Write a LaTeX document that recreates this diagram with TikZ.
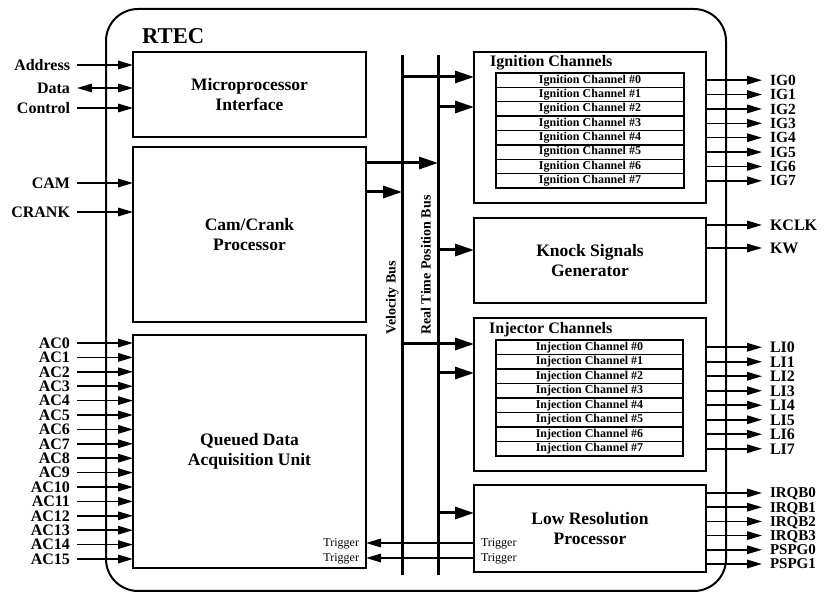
\documentclass[tikz,border=0pt]{standalone}
\usepackage{fontspec}
\setmainfont{Liberation Serif}
\usetikzlibrary{arrows.meta}
\newcommand\fBlock{\fontsize{17.5}{20.5}\selectfont\bfseries}
\newcommand\fSig{\fontsize{16}{16}\selectfont\bfseries}
\newcommand\fSigM{\fontsize{15.5}{15.5}\selectfont\bfseries}
\newcommand\fSigS{\fontsize{15}{15}\selectfont\bfseries}
\newcommand\fRow{\fontsize{12}{12}\selectfont\bfseries}
\newcommand\fTrig{\fontsize{12}{12}\selectfont}
\newcommand\fBus{\fontsize{14}{14}\selectfont\bfseries}
\begin{document}
\begin{tikzpicture}[x=1pt,y=-1pt,
  blk/.style={draw, line width=2pt, inner sep=0pt, outer sep=0pt, align=center, font=\fBlock},
  chrow/.style={draw, line width=1.3pt, minimum width=188pt, minimum height=14.4pt, inner sep=0pt, outer sep=0pt, font=\fRow},
  siglbl/.style={inner sep=0pt, outer sep=0pt, font=\fSig, text height=10.6pt, text depth=0pt},
  siglblm/.style={inner sep=0pt, outer sep=0pt, font=\fSigM, text height=10.3pt, text depth=0pt},
  siglbls/.style={inner sep=0pt, outer sep=0pt, font=\fSigS, text height=10pt, text depth=0pt},
  triglbl/.style={inner sep=0pt, outer sep=0pt, font=\fTrig, text height=8pt, text depth=0pt},
  sig/.style={line width=1.6pt, -{Triangle[length=15pt,width=8.5pt]}},
  busarr/.style={line width=3pt, -{Triangle[length=19pt,width=12pt]}},
  busline/.style={line width=3pt}
]
\useasboundingbox (0,0) rectangle (831,593);

% outer RTEC container
\draw[line width=2pt, rounded corners=32pt] (106,9) rectangle (726,591);
\node[anchor=base west, inner sep=0pt, font=\fontsize{22.6}{24}\selectfont\bfseries] (rtec) at (142,44) {RTEC};

% blocks
\node[blk, minimum width=233pt, minimum height=85pt] (mpi) at (249.5,94.5) {Microprocessor\\Interface};
\node[blk, minimum width=233pt, minimum height=175pt] (cc) at (249.5,234.5) {Cam/Crank\\Processor};
\node[blk, minimum width=233pt, minimum height=233pt] (qd) at (249.5,451.5) {Queued Data\\Acquisition Unit};
\node[blk, minimum width=232pt, minimum height=151pt] (ign) at (590,127.5) {};
\node[blk, minimum width=232pt, minimum height=85pt] (kn) at (590,260.5) {Knock Signals\\Generator};
\node[blk, minimum width=232pt, minimum height=153pt] (inj) at (590,394.5) {};
\node[blk, minimum width=232pt, minimum height=87pt] (lrp) at (590,528.5) {Low Resolution\\Processor};

\node[anchor=base west, inner sep=0pt, font=\fontsize{16}{16}\selectfont\bfseries] (igt) at (490,67) {Ignition Channels};
\node[anchor=base west, inner sep=0pt, font=\fontsize{16}{16}\selectfont\bfseries] (ijt) at (489,334) {Injector Channels};

% buses
\coordinate (vtop) at (402,55);
\coordinate (vbot) at (402,575);
\coordinate (rtop) at (438,55);
\coordinate (rbot) at (438,575);
\draw[busline] (vtop) -- (vbot);
\draw[busline] (rtop) -- (rbot);
\node[rotate=90, anchor=base west, inner sep=0pt, font=\fBus] (vlab) at (395.5,335) {Velocity Bus};
\node[rotate=90, anchor=base west, inner sep=0pt, font=\fBus] (rlab) at (430.5,335) {Real Time Position Bus};

% cam/crank to buses
\coordinate (r1) at (438,163);
\coordinate (v1) at (402,192);
\draw[busarr] (cc.east |- r1) -- (r1);
\draw[busarr] (cc.east |- v1) -- (v1);

% buses to blocks
\coordinate (v2) at (402,77);
\coordinate (r2) at (438,107);
\coordinate (r3) at (438,250);
\coordinate (v4) at (402,344);
\coordinate (r4) at (438,373);
\coordinate (r5) at (438,513);
\draw[busarr] (v2) -- (v2 -| ign.west);
\draw[busarr] (r2) -- (r2 -| ign.west);
\draw[busarr] (r3) -- (r3 -| kn.west);
\draw[busarr] (v4) -- (v4 -| inj.west);
\draw[busarr] (r4) -- (r4 -| inj.west);
\draw[busarr] (r5) -- (r5 -| lrp.west);

% microprocessor inputs
\node[siglbl, anchor=east] (addr) at (70,65) {Address};
\node[siglbl, anchor=east] (data) at (70,88) {Data};
\node[siglbl, anchor=east] (ctrl) at (70,108) {Control};
\draw[sig] ([xshift=7pt]addr.east) -- (addr -| mpi.west);
\draw[sig, {Triangle[length=15pt,width=8.5pt]}-{Triangle[length=15pt,width=8.5pt]}] ([xshift=7pt]data.east) -- (data -| mpi.west);
\draw[sig] ([xshift=7pt]ctrl.east) -- (ctrl -| mpi.west);

% cam / crank inputs
\node[siglbl, anchor=east] (cam) at (70,183) {CAM};
\node[siglbl, anchor=east] (crank) at (70,212) {CRANK};
\draw[sig] ([xshift=7pt]cam.east) -- (cam -| cc.west);
\draw[sig] ([xshift=7pt]crank.east) -- (crank -| cc.west);

% AC inputs
\foreach \i in {0,...,15} {
  \node[siglbl, anchor=east] (ac\i) at (70,{343+14.4*\i}) {AC\i};
  \draw[sig] ([xshift=7pt]ac\i.east) -- (ac\i -| qd.west);
}

% ignition channels
\foreach \i in {0,...,7} {
  \node[chrow] (ic\i) at (590,{73+14.375*\i+7.19}) {Ignition Channel \#\i};
  \node[siglblm, anchor=west] (ig\i) at (770,{73+14.375*\i+7.19}) {IG\i};
  \draw[sig] (ig\i -| ign.east) -- ([xshift=-8pt]ig\i.west);
}

% injector channels
\foreach \i in {0,...,7} {
  \node[chrow, minimum width=187pt, minimum height=14.5pt] (jc\i) at (589.5,{340+14.5*\i+7.25}) {Injection Channel \#\i};
  \node[siglbl, anchor=west] (li\i) at (770,{340+14.5*\i+7.25}) {LI\i};
  \draw[sig] (li\i -| inj.east) -- ([xshift=-8pt]li\i.west);
}

% knock outputs
\node[siglbl, anchor=west] (kclk) at (770,225) {KCLK};
\node[siglbl, anchor=west] (kw) at (770,248) {KW};
\draw[sig] (kclk -| kn.east) -- ([xshift=-8pt]kclk.west);
\draw[sig] (kw -| kn.east) -- ([xshift=-8pt]kw.west);

% low resolution outputs
\node[siglbls, anchor=west] (irq0) at (770,493) {IRQB0};
\node[siglbls, anchor=west] (irq1) at (770,507.2) {IRQB1};
\node[siglbls, anchor=west] (irq2) at (770,521.4) {IRQB2};
\node[siglbls, anchor=west] (irq3) at (770,535.6) {IRQB3};
\node[siglbls, anchor=west] (psp0) at (770,549.8) {PSPG0};
\node[siglbls, anchor=west] (psp1) at (770,564) {PSPG1};
\foreach \n in {irq0,irq1,irq2,irq3,psp0,psp1} {
  \draw[sig] (\n -| lrp.east) -- ([xshift=-8pt]\n.west);
}

% triggers
\node[triglbl, anchor=west] (lt1) at (481,543) {Trigger};
\node[triglbl, anchor=west] (lt2) at (481,558) {Trigger};
\node[triglbl, anchor=east] (qt1) at (359,543) {Trigger};
\node[triglbl, anchor=east] (qt2) at (359,558) {Trigger};
\draw[sig] (lt1 -| lrp.west) -- (qt1 -| qd.east);
\draw[sig] (lt2 -| lrp.west) -- (qt2 -| qd.east);
\end{tikzpicture}
\end{document}
